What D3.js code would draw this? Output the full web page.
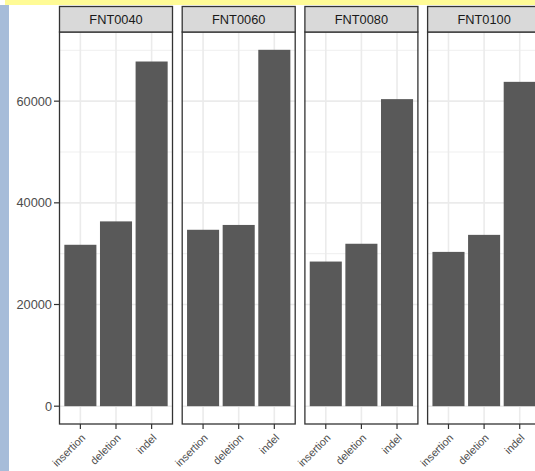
<!DOCTYPE html>
<html>
<head>
<meta charset="utf-8">
<script src="https://cdn.jsdelivr.net/npm/d3@7"></script>
<style>
  html, body { margin: 0; padding: 0; background: #ffffff; }
  svg { display: block; }
  text { font-family: "Liberation Sans", Arial, Helvetica, sans-serif; }
</style>
</head>
<body>
<script>
// Variant-type counts per sample, one facet per sample
const samples = ["FNT0040", "FNT0060", "FNT0080", "FNT0100"];
const categories = ["insertion", "deletion", "indel"];
const insertionCounts = [31750, 34700, 28450, 30350];
const deletionCounts  = [36350, 35650, 31950, 33700];
const indelCounts     = [67800, 70100, 60400, 63800];
const yMajorTicks = [0, 20000, 40000, 60000];
const yMinorTicks = [10000, 30000, 50000, 70000];

const rows = samples.map((s, i) => ({
  sample: s,
  values: [
    { cat: "insertion", value: insertionCounts[i] },
    { cat: "deletion",  value: deletionCounts[i] },
    { cat: "indel",     value: indelCounts[i] }
  ]
}));

const W = 535, H = 471;
const svg = d3.select("body").append("svg").attr("width", W).attr("height", H);

// page frame accents
svg.append("rect").attr("x", 5).attr("y", 0).attr("width", W - 5).attr("height", 5).attr("fill", "#FFFB96");
svg.append("rect").attr("x", 0).attr("y", 5).attr("width", 9).attr("height", H - 5).attr("fill", "#A6BCD9");

const panelLeft0 = 59, panelStep = 122.7, panelW = 114;
const stripTop = 6, stripH = 26;
const panelTop = stripTop + stripH, panelBottom = 424;

const yMax = d3.max(rows, r => d3.max(r.values, v => v.value));
const y = d3.scaleLinear()
  .domain([-0.05 * yMax, 1.05 * yMax])
  .range([panelBottom, panelTop]);

const x = d3.scaleBand()
  .domain(categories)
  .range([0, panelW])
  .paddingInner(0.1)
  .paddingOuter(0.15);

const fontSize = 12.8;
const xLabelSize = 10.8;

rows.forEach((row, i) => {
  const g = svg.append("g").attr("transform", `translate(${panelLeft0 + i * panelStep},0)`);

  // gridlines
  g.selectAll(".ymin").data(yMinorTicks).join("line")
    .attr("x1", 0).attr("x2", panelW)
    .attr("y1", d => y(d)).attr("y2", d => y(d))
    .attr("stroke", "#EBEBEB").attr("stroke-width", 0.8);
  g.selectAll(".ymaj").data(yMajorTicks).join("line")
    .attr("x1", 0).attr("x2", panelW)
    .attr("y1", d => y(d)).attr("y2", d => y(d))
    .attr("stroke", "#EBEBEB").attr("stroke-width", 1.6);
  g.selectAll(".xmaj").data(categories).join("line")
    .attr("x1", d => x(d) + x.bandwidth() / 2).attr("x2", d => x(d) + x.bandwidth() / 2)
    .attr("y1", panelTop).attr("y2", panelBottom)
    .attr("stroke", "#EBEBEB").attr("stroke-width", 1.6);

  // bars
  g.selectAll(".bar").data(row.values).join("rect")
    .attr("x", d => x(d.cat))
    .attr("width", x.bandwidth())
    .attr("y", d => y(d.value))
    .attr("height", d => y(0) - y(d.value))
    .attr("fill", "#595959");

  // panel border
  g.append("rect")
    .attr("x", 0.5).attr("y", panelTop)
    .attr("width", panelW - 1).attr("height", panelBottom - panelTop)
    .attr("fill", "none").attr("stroke", "#333333").attr("stroke-width", 1.3);

  // strip
  g.append("rect")
    .attr("x", 0.5).attr("y", stripTop + 0.5)
    .attr("width", panelW - 1).attr("height", stripH - 0.5)
    .attr("fill", "#D9D9D9").attr("stroke", "#333333").attr("stroke-width", 1.3);
  g.append("text")
    .attr("x", panelW / 2).attr("y", stripTop + stripH / 2)
    .attr("text-anchor", "middle").attr("dominant-baseline", "central")
    .attr("font-size", fontSize).attr("fill", "#1A1A1A")
    .text(row.sample);

  // x axis ticks and rotated labels
  const xa = g.append("g");
  categories.forEach(c => {
    const cx = x(c) + x.bandwidth() / 2;
    xa.append("line")
      .attr("x1", cx).attr("x2", cx)
      .attr("y1", panelBottom).attr("y2", panelBottom + 5)
      .attr("stroke", "#333333").attr("stroke-width", 1.2);
    xa.append("text")
      .attr("transform", `translate(${cx},${panelBottom + 9}) rotate(-45)`)
      .attr("text-anchor", "end")
      .attr("dy", "0.72em")
      .attr("font-size", xLabelSize).attr("fill", "#4D4D4D")
      .text(c);
  });

  // y axis on the first panel only
  if (i === 0) {
    const ya = g.append("g");
    yMajorTicks.forEach(t => {
      ya.append("line")
        .attr("x1", -5).attr("x2", 0)
        .attr("y1", y(t)).attr("y2", y(t))
        .attr("stroke", "#333333").attr("stroke-width", 1.2);
      ya.append("text")
        .attr("x", -7).attr("y", y(t))
        .attr("text-anchor", "end").attr("dominant-baseline", "central")
        .attr("font-size", fontSize).attr("fill", "#4D4D4D")
        .text(t);
    });
  }
});
</script>
</body>
</html>
